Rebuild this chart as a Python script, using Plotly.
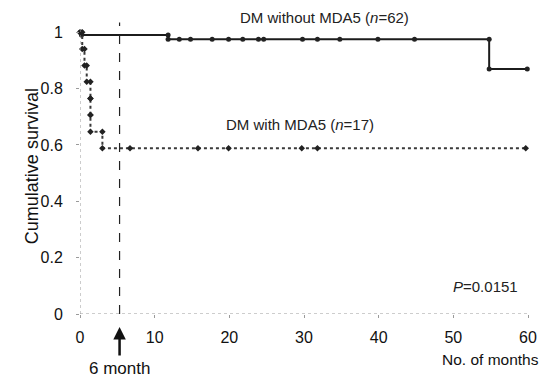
import numpy as np
import plotly.graph_objects as go

# ---- data ----
# DM without MDA5 (n=62): step times (months) and survival after each step
wo_times = [0, 0.2, 11.8, 54.8]
wo_surv = [1.0, 0.99, 0.975, 0.87]
wo_end = 59.9
wo_censor = [13.3, 14.8, 17.7, 19.9, 21.8, 23.9, 24.6, 29.8, 31.8, 34.8, 39.9, 44.8, 59.9]

# DM with MDA5 (n=17)
w_times = [0, 0.3, 0.6, 0.9, 1.4, 1.4, 1.4, 3.0]
w_surv = [1.0, 0.941, 0.882, 0.824, 0.765, 0.706, 0.647, 0.588]
w_end = 59.7
w_censor = [6.7, 15.8, 19.9, 29.7, 31.8, 59.7]

x_ticks = [0, 10, 20, 30, 40, 50, 60]
y_ticks = [0, 0.2, 0.4, 0.6, 0.8, 1]
y_tick_text = ["0", "0.2", "0.4", "0.6", "0.8", "1"]

cutoff_month = 5.3
p_text = "<i>P</i>=0.0151"

Y_MAX = 1.04


def surv_at(times, surv, t):
    idx = np.searchsorted(np.array(times), t, side="right") - 1
    return surv[max(idx, 0)]


def step_markers(times, surv, censor):
    xs, ys = [times[0]], [surv[0]]
    for i in range(1, len(times)):
        xs += [times[i], times[i]]
        ys += [surv[i - 1], surv[i]]
    for c in censor:
        xs.append(c)
        ys.append(surv_at(times, surv, c))
    return xs, ys


fig = go.Figure()

for times, surv, end, censor, dash, color, sym in [
    (wo_times, wo_surv, wo_end, wo_censor, "solid", "#1c1c1c", "circle"),
    (w_times, w_surv, w_end, w_censor, "dot", "#3a3a3a", "diamond"),
]:
    fig.add_trace(go.Scatter(
        x=list(times) + [end], y=list(surv) + [surv[-1]],
        mode="lines", line=dict(shape="hv", dash=dash, color=color, width=2),
        hoverinfo="skip", showlegend=False, cliponaxis=False))
    mx, my = step_markers(times, surv, censor)
    fig.add_trace(go.Scatter(
        x=mx, y=my, mode="markers",
        marker=dict(symbol=sym, size=5, color="#222222"),
        showlegend=False, cliponaxis=False))

# axis lines (dotted gray)
fig.add_shape(type="line", x0=0, x1=60, y0=0, y1=0, xref="x", yref="y",
              line=dict(color="#9a9a9a", width=1, dash="dot"))
fig.add_shape(type="line", x0=0, x1=0, y0=0, y1=1.01, xref="x", yref="y",
              line=dict(color="#9a9a9a", width=1, dash="dot"))
# 6-month dashed line
fig.add_shape(type="line", x0=cutoff_month, x1=cutoff_month, y0=0, y1=1.035,
              xref="x", yref="y", line=dict(color="#222222", width=1.2, dash="dash"))

font_main = "Liberation Sans, Arial, sans-serif"


def py(v):
    return v / Y_MAX


fig.add_annotation(x=cutoff_month, y=py(-0.046), xref="x", yref="paper", text="",
                   showarrow=True, ax=0, ay=30, arrowhead=2, arrowsize=1,
                   arrowwidth=2.5, arrowcolor="#111111")
fig.add_annotation(x=cutoff_month, y=py(-0.192), xref="x", yref="paper", text="6 month",
                   showarrow=False, font=dict(family=font_main, size=17, color="#111"),
                   xanchor="center", yanchor="middle")
fig.add_annotation(x=55.0, y=py(-0.163), xref="x", yref="paper", text="No. of months",
                   showarrow=False, font=dict(family=font_main, size=15.5, color="#111"),
                   xanchor="center", yanchor="middle")
fig.add_annotation(x=-0.107, y=py(0.525), xref="paper", yref="paper", text="Cumulative survival",
                   textangle=-90, showarrow=False,
                   font=dict(family=font_main, size=18, color="#111"),
                   xanchor="center", yanchor="middle")
fig.add_annotation(x=32.8, y=py(1.053), xref="x", yref="paper", text="DM without MDA5 (<i>n</i>=62)",
                   showarrow=False, font=dict(family=font_main, size=15, color="#222"),
                   xanchor="center", yanchor="middle")
fig.add_annotation(x=29.5, y=py(0.672), xref="x", yref="paper", text="DM with MDA5 (<i>n</i>=17)",
                   showarrow=False, font=dict(family=font_main, size=15, color="#222"),
                   xanchor="center", yanchor="middle")
fig.add_annotation(x=54.3, y=py(0.096), xref="x", yref="paper", text=p_text,
                   showarrow=False, font=dict(family=font_main, size=15, color="#222"),
                   xanchor="center", yanchor="middle")

fig.update_layout(
    width=541, height=369,
    margin=dict(l=72, r=21, t=13, b=63),
    paper_bgcolor="white", plot_bgcolor="white",
    font=dict(family=font_main, size=16, color="#111"),
    xaxis=dict(range=[0, 60], tickvals=x_ticks, showgrid=False, zeroline=False,
               showline=False, ticks="outside", ticklen=3, tickcolor="#9a9a9a",
               tickfont=dict(size=16), ticklabelstandoff=6),
    yaxis=dict(range=[0, Y_MAX], tickvals=y_ticks, ticktext=y_tick_text,
               showgrid=False, zeroline=False, showline=False, ticks="outside",
               ticklen=3, tickcolor="#9a9a9a", tickfont=dict(size=16),
               ticklabelstandoff=10),
)

fig.write_html("out.html")
